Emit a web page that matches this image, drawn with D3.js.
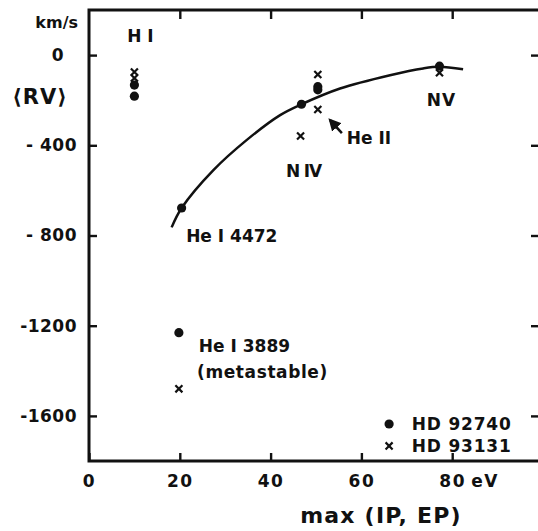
<!DOCTYPE html>
<html>
<head>
<meta charset="utf-8">
<script src="https://cdn.jsdelivr.net/npm/d3@7"></script>
<style>
  html, body { margin: 0; padding: 0; background: #fff; }
  svg { display: block; }
  text { font-family: "DejaVu Sans", sans-serif; font-weight: bold; fill: #111; }
</style>
</head>
<body>
<svg id="chart" width="538" height="531"></svg>
<script>
// Mean radial velocity vs. max(IP, EP) for two stars
const xTicks = [0, 20, 40, 60, 80];
const xTickLabels = ["0", "20", "40", "60", "80"];
const yTicks = [0, -400, -800, -1200, -1600];
const yTickLabels = ["0", "- 400", "- 800", "-1200", "-1600"];

// HD 92740 (filled circles): [max(IP,EP) eV, <RV> km/s]
const hd92740 = [
  [10, -133], [10, -182],      // H I
  [20.4, -678],                // He I 4472
  [19.8, -1231],               // He I 3889
  [46.8, -218],                // N IV
  [50.4, -140], [50.4, -154],  // He II
  [77.2, -49]                  // N V
];
// HD 93131 (crosses)
const hd93131 = [
  [10, -75], [10, -102],       // H I
  [19.8, -1480],               // He I 3889
  [46.6, -359],                // N IV
  [50.4, -86], [50.4, -241],   // He II
  [77.2, -78]                  // N V
];
// Hand-drawn trend curve
const trendX = [18.2, 20.4, 27.4, 34.7, 42.1, 46.8, 55.3, 66.3, 73.6, 77.2, 82.4];
const trendY = [-764, -678, -510, -377, -266, -218, -148, -89, -59, -52, -63];

const svg = d3.select("#chart");
const x = d3.scaleLinear().domain([0, 100]).range([89, 543]);
const y = d3.scaleLinear().domain([-1800, 200]).range([461, 10]);

// Frame
svg.append("rect")
  .attr("x", x(0)).attr("y", y(200))
  .attr("width", x(100) - x(0)).attr("height", y(-1800) - y(200))
  .attr("fill", "none").attr("stroke", "#111").attr("stroke-width", 3);

function styleAxis(g) {
  g.select(".domain").remove();
  g.selectAll(".tick line").attr("stroke", "#111").attr("stroke-width", 2.4);
}

// Bottom axis (ticks point inward)
const gx = svg.append("g").attr("transform", `translate(0,${y(-1800)})`)
  .call(d3.axisBottom(x).tickValues(xTicks).tickSize(-8).tickPadding(14)
    .tickFormat((d, i) => xTickLabels[i]));
styleAxis(gx);
gx.selectAll(".tick text").attr("font-size", 17).attr("letter-spacing", 1.5)
  .attr("font-family", "DejaVu Sans").attr("font-weight", "bold").attr("fill", "#111");

// Top axis, ticks only
const gt = svg.append("g").attr("transform", `translate(0,${y(200)})`)
  .call(d3.axisTop(x).tickValues(xTicks.slice(1)).tickSize(-9).tickFormat(""));
styleAxis(gt);

// Left axis
const gy = svg.append("g").attr("transform", `translate(${x(0)},0)`)
  .call(d3.axisLeft(y).tickValues(yTicks).tickSize(-8).tickPadding(12)
    .tickFormat((d, i) => yTickLabels[i]));
styleAxis(gy);
gy.selectAll(".tick text").attr("font-size", 17).attr("letter-spacing", 0.5)
  .attr("font-family", "DejaVu Sans").attr("font-weight", "bold").attr("fill", "#111")
  .filter(d => d === 0).attr("text-anchor", "middle").attr("x", -31);

// Right axis, ticks only
const gr = svg.append("g").attr("transform", `translate(${x(100)},0)`)
  .call(d3.axisRight(y).tickValues(yTicks).tickSize(-12).tickFormat(""));
styleAxis(gr);

// Units and axis titles
svg.append("text").attr("x", x(80) + 19).attr("y", y(-1800) + 14 + 12)
  .attr("font-size", 17).attr("letter-spacing", 1.5).text("eV");
svg.append("text").attr("x", 78).attr("y", 28).attr("text-anchor", "end")
  .attr("font-size", 16).text("km/s");
svg.append("text").attr("x", 40).attr("y", 104).attr("text-anchor", "middle")
  .attr("font-size", 21).attr("letter-spacing", 1).text("⟨RV⟩");
svg.append("text").attr("x", 381).attr("y", 523).attr("text-anchor", "middle")
  .attr("font-size", 22).attr("letter-spacing", 1.2).text("max (IP, EP)");

// Trend curve
const line = d3.line().x(d => x(d[0])).y(d => y(d[1])).curve(d3.curveCatmullRom.alpha(0.5));
svg.append("path").datum(d3.zip(trendX, trendY))
  .attr("d", line).attr("fill", "none").attr("stroke", "#111").attr("stroke-width", 2.5);

// Points
svg.append("g").selectAll("circle").data(hd92740).join("circle")
  .attr("cx", d => x(d[0])).attr("cy", d => y(d[1])).attr("r", 4.6).attr("fill", "#111");

const cross = d3.symbol().type(d3.symbolX).size(34);
svg.append("g").selectAll("path").data(hd93131).join("path")
  .attr("transform", d => `translate(${x(d[0])},${y(d[1])})`)
  .attr("d", cross).attr("fill", "none").attr("stroke", "#111").attr("stroke-width", 2.2);

// Line identifications
const annotations = [
  { t: "H I", ex: 8.4, rv: 58, ls: 0 },
  { t: "N IV", ex: 43.4, rv: -541, ls: -1.2 },
  { t: "He II", ex: 56.8, rv: -394, ls: 0 },
  { t: "N V", ex: 74.4, rv: -226, ls: -2.5 },
  { t: "He I 4472", ex: 21.4, rv: -829, ls: 0 },
  { t: "He I 3889", ex: 24.2, rv: -1316, ls: 0 },
  { t: "(metastable)", ex: 23.8, rv: -1432, ls: 0.6 }
];
svg.append("g").selectAll("text").data(annotations).join("text")
  .attr("x", d => x(d.ex)).attr("y", d => y(d.rv))
  .attr("letter-spacing", d => d.ls)
  .attr("font-size", 17).text(d => d.t);

// Arrow pointing at the He II points
svg.append("defs").append("marker").attr("id", "head")
  .attr("viewBox", "0 0 10 10").attr("refX", 8).attr("refY", 5)
  .attr("markerWidth", 5).attr("markerHeight", 5).attr("orient", "auto")
  .append("path").attr("d", "M0,0 L10,5 L0,10 Z").attr("fill", "#111");
svg.append("line")
  .attr("x1", x(55.7)).attr("y1", y(-346)).attr("x2", x(53.1)).attr("y2", y(-288))
  .attr("stroke", "#111").attr("stroke-width", 2.5).attr("marker-end", "url(#head)");

// Legend
const legend = [
  { name: "HD 92740", kind: "dot", rv: -1636 },
  { name: "HD 93131", kind: "cross", rv: -1733 }
];
const lg = svg.append("g");
legend.forEach(d => {
  if (d.kind === "dot") {
    lg.append("circle").attr("cx", x(66.1)).attr("cy", y(d.rv)).attr("r", 4.6).attr("fill", "#111");
  } else {
    lg.append("path").attr("transform", `translate(${x(66.1)},${y(d.rv)})`)
      .attr("d", cross).attr("fill", "none").attr("stroke", "#111").attr("stroke-width", 2.2);
  }
  lg.append("text").attr("x", x(71.1)).attr("y", y(d.rv) + 6)
    .attr("font-size", 17).attr("letter-spacing", 0.8).text(d.name);
});
</script>
</body>
</html>
